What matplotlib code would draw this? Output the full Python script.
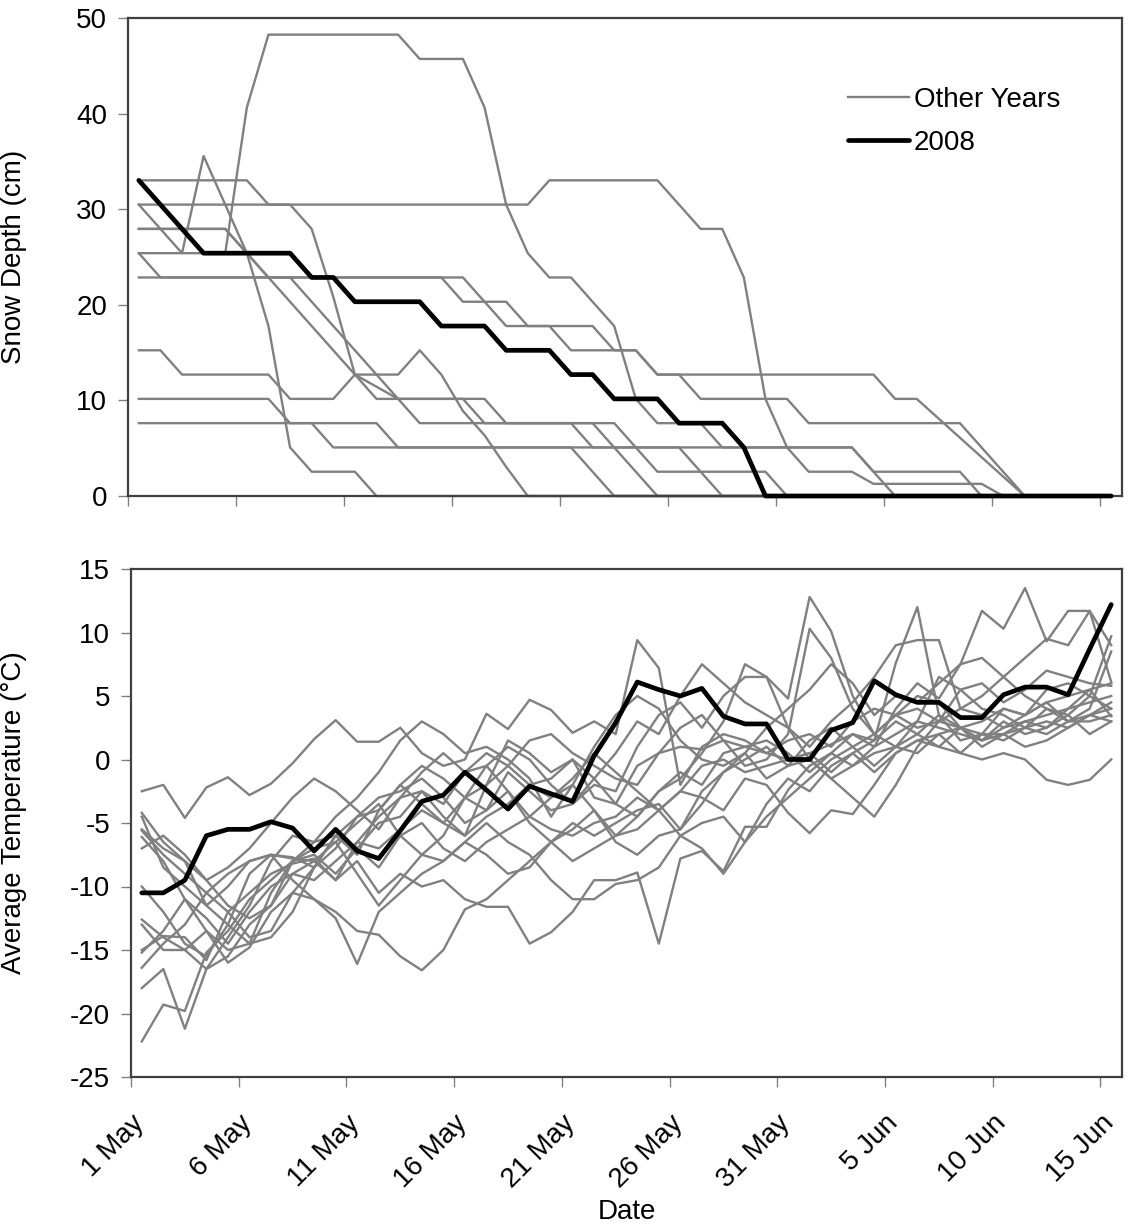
import numpy as np
import pandas as pd
import matplotlib
matplotlib.use("Agg")
import matplotlib.pyplot as plt

plt.rcParams['font.family'] = ['Liberation Sans', 'DejaVu Sans']
plt.rcParams['axes.unicode_minus'] = False

dates = pd.date_range('2008-05-01', periods=46, freq='D')

snow_2008_in = [13, 12, 11, 10, 10, 10, 10, 10, 9, 9, 8, 8, 8, 8, 7, 7, 7, 6, 6, 6, 5, 5, 4, 4, 4, 3, 3, 3, 2,
                0, 0, 0, 0, 0, 0, 0, 0, 0, 0, 0, 0, 0, 0, 0, 0, 0]
snow_other_in = [
    [10, 10, 10, 10, 10, 16, 19, 19, 19, 19, 19, 19, 19, 18, 18, 18, 16, 12, 10, 9, 9, 8, 7, 4, 3, 3, 3, 2, 2, 2,
     2, 2, 2, 2, 1, 0, 0, 0, 0, 0, 0, 0, 0, 0, 0, 0],
    [12, 12, 12, 12, 12, 12, 12, 12, 12, 12, 12, 12, 12, 12, 12, 12, 12, 12, 12, 13, 13, 13, 13, 13, 13, 12, 11, 11,
     9, 4, 2, 1, 1, 1, 0.5, 0.5, 0.5, 0.5, 0.5, 0.5, 0, 0, 0, 0, 0, 0],
    [13, 13, 13, 13, 13, 13, 12, 12, 11, 8.2, 5, 5, 5, 6, 5, 3.5, 2.5, 1.2, 0, 0, 0, 0, 0, 0, 0, 0, 0, 0, 0, 0,
     0, 0, 0, 0, 0, 0, 0, 0, 0, 0, 0, 0, 0, 0, 0, 0],
    [11, 11, 11, 11, 11, 10, 9, 8, 7, 6, 5, 4.5, 4, 4, 4, 4, 3, 3, 3, 3, 3, 3, 2, 1, 0, 0, 0, 0, 0, 0,
     0, 0, 0, 0, 0, 0, 0, 0, 0, 0, 0, 0, 0, 0, 0, 0],
    [12, 11, 10, 14, 12, 10, 7, 2, 1, 1, 1, 0, 0, 0, 0, 0, 0, 0, 0, 0, 0, 0, 0, 0, 0, 0, 0, 0, 0, 0,
     0, 0, 0, 0, 0, 0, 0, 0, 0, 0, 0, 0, 0, 0, 0, 0],
    [10, 9, 9, 9, 9, 9, 9, 9, 9, 9, 9, 9, 9, 9, 9, 9, 8, 8, 7, 7, 7, 7, 6, 6, 5, 5, 5, 5, 5, 5,
     5, 5, 5, 5, 5, 4, 4, 3.2, 2.4, 1.6, 0.8, 0, 0, 0, 0, 0],
    [11, 11, 11, 11, 11, 10, 9, 9, 9, 9, 9, 9, 9, 9, 9, 8, 8, 7, 7, 7, 6, 6, 6, 6, 5, 5, 4, 4, 4, 4,
     4, 3, 3, 3, 3, 3, 3, 3, 3, 2, 1, 0, 0, 0, 0, 0],
    [6, 6, 5, 5, 5, 5, 5, 4, 4, 4, 5, 4, 4, 4, 4, 4, 4, 3, 3, 3, 3, 3, 3, 2, 2, 2, 1, 0, 0, 0,
     0, 0, 0, 0, 0, 0, 0, 0, 0, 0, 0, 0, 0, 0, 0, 0],
    [4, 4, 4, 4, 4, 4, 4, 3, 3, 2, 2, 2, 2, 2, 2, 2, 2, 2, 2, 2, 2, 1, 0, 0, 0, 0, 0, 0, 0, 0,
     0, 0, 0, 0, 0, 0, 0, 0, 0, 0, 0, 0, 0, 0, 0, 0],
    [3, 3, 3, 3, 3, 3, 3, 3, 3, 3, 3, 3, 2, 2, 2, 2, 2, 2, 2, 2, 2, 2, 2, 2, 2, 2, 2, 2, 2, 2,
     2, 2, 2, 2, 1, 1, 1, 1, 1, 0, 0, 0, 0, 0, 0, 0],
    [9, 9, 9, 9, 9, 9, 9, 9, 8, 7, 6, 5, 4, 3, 3, 3, 3, 3, 3, 3, 3, 2, 2, 2, 1, 1, 1, 1, 1, 1,
     0, 0, 0, 0, 0, 0, 0, 0, 0, 0, 0, 0, 0, 0, 0, 0],
]

# daily average temperature (deg C)
temp_2008 = [-10.5, -10.5, -9.5, -6.0, -5.5, -5.5, -4.9, -5.4, -7.2, -5.5, -7.2, -7.8, -5.6, -3.3, -2.8, -1.0,
             -2.4, -3.9, -2.1, -2.7, -3.3, 0.3, 2.9, 6.1, 5.5, 5.0, 5.6, 3.4, 2.8, 2.8, 0.0, 0.0, 2.3, 2.9, 6.2,
             5.1, 4.5, 4.5, 3.3, 3.3, 5.1, 5.7, 5.7, 5.1, 8.7, 12.2]
temp_other = [
    [-2.5, -2.0, -4.6, -2.2, -1.4, -2.8, -1.9, -0.3, 1.6, 3.1, 1.4, 1.4, 2.5, 0.5, -0.5, 0.0, 3.6, 2.4, 4.7, 3.9,
     2.1, 3.0, 2.0, 9.4, 7.2, -2.0, 1.0, 2.0, 1.5, 0.5, 1.5, 2.0, 1.0, 3.0, 4.0, 3.5, 4.0, 3.0, 2.5, 3.0,
     4.0, 3.5, 4.5, 5.0, 5.5, 6.0],
    [-6.1, -8.0, -11.0, -13.5, -15.0, -14.5, -14.0, -12.0, -8.5, -7.0, -4.5, -3.0, -2.5, -1.5, -3.0, -5.0, -4.0,
     -1.0, -2.5, -4.0, -3.5, -2.0, -2.5, 1.0, 3.5, 4.5, 2.5, 5.0, 6.5, 6.5, 4.8, 12.8, 10.1, 5.0, 2.0, 3.5,
     5.0, 4.5, 2.5, 1.0, 2.0, 3.0, 2.5, 4.0, 5.5, 3.4],
    [-5.6, -7.5, -9.0, -10.5, -12.0, -14.0, -13.5, -10.5, -8.5, -6.0, -4.5, -4.0, -2.0, -0.5, -1.5, -3.0, -4.0,
     -2.5, -4.5, -5.5, -6.0, -5.0, -4.5, -3.0, -4.0, -2.5, -0.5, 0.0, -1.0, -0.5, 0.0, 0.5, -1.0, 0.5, 1.5, 7.6,
     12.0, 3.5, 1.5, 2.0, 4.0, 3.5, 5.5, 6.0, 5.0, 9.7],
    [-4.2, -6.5, -8.0, -11.5, -10.0, -8.0, -7.5, -7.7, -8.5, -6.0, -7.0, -5.0, -4.5, -2.5, -3.5, -1.0, 0.5, -0.5,
     -2.0, -1.5, 0.0, -3.0, -3.5, -0.5, 0.5, 1.0, 0.8, 1.5, 1.0, 0.5, 0.0, 0.5, 1.2, 2.0, 1.0, 4.0, 6.0, 4.8,
     7.5, 11.7, 10.3, 13.5, 9.3, 11.7, 11.7, 6.1],
    [-15.0, -13.9, -14.0, -15.8, -12.0, -10.5, -9.0, -8.2, -7.8, -9.5, -8.0, -10.5, -9.0, -10.0, -9.5, -11.0,
     -11.6, -11.6, -14.5, -13.6, -12.0, -9.5, -9.5, -8.9, -14.5, -7.8, -7.2, -8.8, -5.3, -5.3, -2.4, -0.5, 0.5,
     -0.5, 1.0, 2.0, 3.0, 2.5, 2.0, 1.5, 2.5, 3.0, 3.5, 4.0, 4.5, 5.0],
    [-22.2, -19.3, -19.8, -15.2, -13.5, -11.0, -9.5, -8.0, -6.5, -6.0, -7.5, -4.0, -2.0, -3.5, -5.0, -3.0, -0.5,
     -2.5, -5.0, -6.5, -8.0, -7.0, -6.0, -4.5, -2.5, -1.0, -2.0, 0.5, 1.0, 1.5, 0.5, -1.0, 0.5, 2.0, 1.5, 3.0,
     2.0, 3.5, 2.5, 1.5, 2.0, 2.5, 2.0, 3.0, 3.5, 4.0],
    [-18.0, -16.5, -21.2, -16.5, -15.5, -13.0, -11.5, -8.0, -7.5, -9.0, -7.0, -8.5, -6.0, -5.0, -7.0, -8.0, -6.5,
     -5.5, -4.5, -3.0, -2.0, -4.0, -6.5, -7.5, -6.0, -5.5, -3.5, -1.0, 0.5, -1.5, -0.5, 0.0, -1.5, -0.5, 0.5,
     1.0, 2.0, 1.0, 0.5, 2.0, 1.5, 2.5, 3.0, 2.5, 3.5, 3.0],
    [-16.4, -14.5, -13.0, -10.5, -9.0, -8.0, -7.5, -9.5, -11.0, -12.0, -13.5, -13.8, -15.5, -16.6, -15.0, -11.8,
     -11.0, -9.5, -8.0, -6.5, -5.0, -6.0, -5.0, -4.0, -3.5, -5.5, -2.5, -1.0, 0.0, 1.0, -0.5, 1.5, 2.5, 1.0, 2.0,
     3.5, 2.5, 3.0, 4.0, 3.5, 2.5, 3.5, 4.5, 3.0, 4.0, 8.5],
    [-12.6, -14.0, -15.0, -13.5, -16.0, -14.8, -12.0, -10.5, -11.0, -12.5, -16.1, -12.0, -10.5, -9.0, -8.0, -6.5,
     -5.0, -6.5, -7.5, -9.5, -11.0, -11.0, -9.8, -9.5, -8.5, -6.0, -5.0, -4.5, -6.5, -3.5, -1.5, -2.5, -0.5, 0.5,
     -1.0, 0.5, 1.5, 2.0, 2.5, 1.5, 3.0, 2.0, 2.5, 3.5, 2.0, 3.0],
    [-7.0, -6.0, -7.5, -9.5, -8.5, -7.0, -5.0, -3.0, -1.5, -2.5, -4.0, -5.5, -3.0, -1.0, 0.5, -1.0, -0.5, 1.0,
     0.0, -2.0, -3.5, -1.5, 0.5, 3.0, 2.0, 5.0, 7.5, 6.0, 4.5, 3.5, 2.5, 0.0, -1.5, -3.0, -4.5, -2.0, 1.0, 3.0,
     5.5, 4.0, 3.5, 2.5, 4.0, 3.0, 3.0, 3.5],
    [-4.5, -8.5, -10.0, -11.5, -13.0, -14.5, -10.5, -8.0, -7.0, -6.5, -5.0, -3.5, -6.0, -7.5, -6.0, -3.0, -2.0,
     -0.5, 1.5, 2.0, 0.5, -0.5, -1.5, -2.0, 0.5, 2.5, 3.5, 1.5, -0.5, 0.0, 2.0, 10.3, 8.0, 4.0, 2.0, 1.0, 3.0,
     6.5, 5.5, 6.0, 4.5, 5.5, 7.0, 6.5, 6.0, 5.8],
    [-5.5, -7.0, -8.0, -9.5, -11.5, -12.5, -11.5, -9.0, -8.0, -6.5, -9.0, -11.5, -9.5, -7.5, -8.0, -6.5, -7.5,
     -9.0, -8.5, -6.5, -5.5, -4.0, -6.0, -5.5, -4.0, -2.5, -3.0, -4.0, -1.5, -2.0, -4.2, -5.8, -4.0, -4.3, -2.0,
     0.5, 1.5, 1.0, 2.5, 2.0, 2.0, 1.0, 1.5, 2.5, 3.5, 4.5],
    [-15.2, -13.5, -11.0, -12.5, -14.5, -12.0, -10.0, -9.0, -9.5, -8.0, -6.5, -7.0, -5.5, -4.0, -5.0, -6.0, -4.5,
     -3.5, -2.0, -3.0, -1.5, 0.5, -1.0, -2.5, -4.0, -6.0, -7.0, -9.0, -6.5, -4.5, -3.0, -1.5, 0.0, 1.0, -0.5,
     1.0, 0.5, 2.0, 0.5, 0.0, 0.5, 0.0, -1.6, -2.0, -1.6, 0.0],
    [-10.0, -12.0, -14.5, -15.5, -13.0, -9.0, -7.5, -7.8, -8.0, -9.5, -6.5, -4.5, -3.0, -2.5, -4.5, -6.0, -2.0,
     1.5, 0.5, -1.0, 0.0, -1.5, -3.5, -4.5, -2.5, -1.5, 0.5, 3.0, 7.5, 6.5, 2.5, 1.0, 3.0, 4.5, 6.5, 9.0, 9.4,
     9.4, 4.0, 5.0, 6.5, 8.0, 9.5, 9.0, 11.7, 9.0],
    [-13.0, -15.0, -15.0, -16.5, -14.0, -11.5, -8.0, -6.0, -6.5, -4.5, -3.0, -1.0, 1.5, 3.0, 2.0, 0.5, 1.0, 0.0,
     -1.5, -4.5, -2.0, 1.0, 3.5, 5.0, 4.0, 1.5, 0.0, -0.5, 0.5, 2.5, 4.0, 5.5, 7.5, 6.0, 3.5, 5.0, 4.5, 6.0,
     7.5, 8.0, 6.5, 5.0, 4.0, 3.5, 5.0, 4.0],
]

tick_dates = dates[::5]
tick_labels = [f"{d.day} {d:%b}" for d in tick_dates]

gray = '#808080'
fs = 20
x = dates + pd.Timedelta(hours=12)

fig = plt.figure(figsize=(11.3, 12.26), dpi=100)
ax1 = fig.add_axes([128 / 1130, 1 - 496 / 1226, 994 / 1130, 478 / 1226])
ax2 = fig.add_axes([131 / 1130, 1 - 1077 / 1226, 991 / 1130, 508 / 1226])

for k, s in enumerate(snow_other_in):
    ax1.plot(x, np.array(s) * 2.54, color=gray, lw=1.7, label='Other Years' if k == 0 else None,
             zorder=2, clip_on=False)
ax1.plot(x, np.array(snow_2008_in) * 2.54, color='black', lw=3.4, label='2008', zorder=3,
         solid_capstyle='round', clip_on=False)

for s in temp_other:
    ax2.plot(x, s, color=gray, lw=1.7, zorder=2)
ax2.plot(x, temp_2008, color='black', lw=3.4, zorder=3, solid_capstyle='round')

start = dates[0]
end = dates[-1] + pd.Timedelta(days=1)
for ax in (ax1, ax2):
    ax.set_xlim(start, end)
    ax.set_xticks(tick_dates)
    for sp in ax.spines.values():
        sp.set_color('#404040')
        sp.set_linewidth(1.6)
    ax.tick_params(axis='both', direction='out', length=7, width=1, color='#808080',
                   labelsize=fs, pad=8)

ax1.set_ylim(0, 50)
ax1.set_yticks([0, 10, 20, 30, 40, 50])
ax1.set_xticklabels([])
ax1.set_ylabel('Snow Depth (cm)', fontsize=fs)
ax1.yaxis.set_label_coords(-0.102, 0.5)
ax1.legend(loc='upper left', bbox_to_anchor=(0.724, 0.856), frameon=False, fontsize=fs,
           handlelength=2.2, handletextpad=0.18, labelspacing=0.62, borderpad=0, borderaxespad=0)

ax2.set_ylim(-25, 15)
ax2.set_yticks(range(-25, 16, 5))
ax2.set_xticklabels(tick_labels, rotation=45, ha='right', va='top', rotation_mode='anchor')
ax2.tick_params(axis='x', pad=17)
ax2.set_ylabel('Average Temperature (°C)', fontsize=fs)
ax2.yaxis.set_label_coords(-0.105, 0.52)
ax2.set_xlabel('Date', fontsize=fs)
ax2.xaxis.set_label_coords(0.5, -0.24)

fig.savefig('out.png', dpi=100)
